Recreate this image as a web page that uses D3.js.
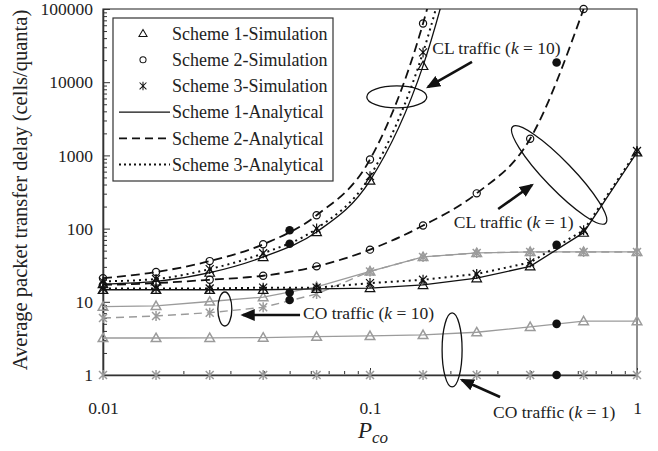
<!DOCTYPE html>
<html lang="en">
<head>
<meta charset="UTF-8">
<title>Average packet transfer delay vs Pco</title>
<script src="https://d3js.org/d3.v7.min.js"></script>
<style>
    html, body { margin: 0; padding: 0; background: #fff; }
    svg { display: block; font-family: "Liberation Serif", "Times New Roman", serif; }
    .legend text { font-size: 18px; fill: #222; }
    .note { font-size: 17.5px; fill: #222; }
</style>
</head>
<body>
<svg id="chart" width="658" height="451"></svg>
<script>
// P_co values of the simulation / analytical points
var pco = [0.01, 0.0158, 0.0251, 0.0398, 0.0631, 0.1, 0.158, 0.251, 0.398, 0.631, 1];

// CL traffic, k = 10 (black curves, last value runs off the top)
var clK10Scheme1 = [17.5, 19, 25, 41, 90, 453, 16700, 1e7];
var clK10Scheme2 = [21, 25.5, 36, 61, 152, 880, 63500, 1e8];
var clK10Scheme3 = [19, 20.5, 28, 46, 100, 520, 25500, 2e7];

// CL traffic, k = 1
var clK1Scheme1 = [14.6, 14.6, 14.6, 14.6, 15, 15.4, 17, 21, 30.5, 88, 1100];
var clK1Scheme2 = [17, 18, 20, 22.7, 30.5, 51.6, 110, 303, 1690, 100000];
var clK1Scheme3 = [15.2, 15.2, 15.2, 15.6, 15.6, 18, 20, 24, 34.5, 95, 1150];

// CO traffic, k = 10 (grey)
var coK10Scheme1 = [8.6, 8.8, 10.1, 11.6, 16, 26, 41, 46.5, 48, 48, 48];
var coK10Scheme3 = [6.0, 6.4, 7.1, 8.4, 12.8, 26, 41, 46.5, 48, 48, 48];

// CO traffic, k = 1 (grey)
var coK1Scheme1 = [3.2, 3.2, 3.22, 3.25, 3.35, 3.42, 3.53, 3.84, 4.55, 5.45, 5.45];
var coK1Scheme3 = [1, 1, 1, 1, 1, 1, 1, 1, 1, 1, 1];

// extra filled dots
var dotPco = [0.05, 0.05, 0.05, 0.05, 0.5, 0.5, 0.5, 0.5];
var dotDelay = [95, 62, 13.4, 10.6, 18600, 60, 5.0, 1];

var yMajor = [1, 10, 100, 1000, 10000, 100000];
var xMajor = [0.01, 0.1, 1];
var legendLabels = ["Scheme 1-Simulation", "Scheme 2-Simulation", "Scheme 3-Simulation",
                    "Scheme 1-Analytical", "Scheme 2-Analytical", "Scheme 3-Analytical"];

var black = "#111", grey = "#9b9b9b";
var plotL = 103, plotR = 637, plotT = 9, plotB = 375;

var svg = d3.select("#chart");

var x = d3.scaleLog().domain([0.01, 1]).range([plotL, plotR]);
var y = d3.scaleLog().domain([1, 100000]).range([plotB, plotT]);

// minor ticks
var yAll = [], xAll = [];
yMajor.forEach(function(d) { if (d < 100000) for (var k = 1; k < 10; k++) yAll.push(d * k); });
yAll.push(100000);
[0.01, 0.1].forEach(function(d) { for (var k = 1; k < 10; k++) xAll.push(d * k); });
xAll.push(1);

var defs = svg.append("defs");
defs.append("clipPath").attr("id", "plot")
    .append("rect").attr("x", plotL).attr("y", plotT).attr("width", plotR - plotL).attr("height", plotB - plotT);

var marker = defs.append("marker")
    .attr("id", "arrow").attr("viewBox", "0 0 12 10").attr("refX", 10).attr("refY", 5)
    .attr("markerWidth", 5.5).attr("markerHeight", 4.6).attr("orient", "auto");
marker.append("path").attr("d", "M0,0L12,5L0,10z").attr("fill", black);

// frame
svg.append("rect").attr("x", plotL).attr("y", plotT).attr("width", plotR - plotL).attr("height", plotB - plotT)
    .attr("fill", "none").attr("stroke", "#444").attr("stroke-width", 1.2);

// y ticks (inward)
var yt = svg.append("g").attr("transform", "translate(" + plotL + ",0)")
    .call(d3.axisRight(y).tickValues(yAll).tickFormat("").tickSize(4).tickSizeOuter(0));
yt.selectAll(".tick line").attr("x2", function(d) { return yMajor.indexOf(d) >= 0 ? 7 : 4; })
    .attr("stroke", "#333");
yt.select(".domain").attr("stroke", "#333").attr("stroke-width", 1.6);

svg.append("g").attr("transform", "translate(" + plotL + ",0)")
    .call(d3.axisLeft(y).tickValues(yMajor).tickFormat(d3.format("d")).tickSize(0).tickPadding(10))
    .call(function(g) { g.select(".domain").remove(); })
    .attr("font-family", "Liberation Serif, serif").attr("font-size", 17.5)
    .selectAll("text").attr("fill", "#222");

// x ticks (inward)
var xt = svg.append("g").attr("transform", "translate(0," + plotB + ")")
    .call(d3.axisTop(x).tickValues(xAll).tickFormat("").tickSize(4).tickSizeOuter(0));
xt.selectAll(".tick line").attr("y2", function(d) { return xMajor.indexOf(d) >= 0 ? -7 : -4; })
    .attr("stroke", "#333");
xt.select(".domain").attr("stroke", "#333").attr("stroke-width", 1.6);

svg.append("g").attr("transform", "translate(0," + plotB + ")")
    .call(d3.axisBottom(x).tickValues(xMajor).tickFormat(function(d) { return String(d); }).tickSize(0).tickPadding(27))
    .call(function(g) { g.select(".domain").remove(); })
    .attr("font-family", "Liberation Serif, serif").attr("font-size", 17.5)
    .selectAll("text").attr("fill", "#222");

// axis titles
svg.append("text").attr("transform", "translate(27,190) rotate(-90)")
    .attr("text-anchor", "middle").attr("font-size", 20.5).attr("fill", "#222")
    .text("Average packet transfer delay (cells/quanta)");

var xt2 = svg.append("text").attr("x", x(0.1) - 12).attr("y", 438).attr("fill", "#222");
xt2.append("tspan").attr("font-style", "italic").attr("font-size", 23).text("P");
xt2.append("tspan").attr("font-style", "italic").attr("font-size", 17).attr("dy", 5).text("co");

// series
var series = [
    {vals: coK1Scheme3, color: grey, dash: null, w: 1.3, sym: "asterisk", curve: d3.curveLinear},
    {vals: coK1Scheme1, color: grey, dash: null, w: 1.3, sym: "triangle", curve: d3.curveLinear},
    {vals: coK10Scheme3, color: grey, dash: "8,5", w: 1.4, sym: "asterisk", curve: d3.curveLinear},
    {vals: coK10Scheme1, color: grey, dash: null, w: 1.3, sym: "triangle", curve: d3.curveLinear},
    {vals: clK1Scheme1, color: black, dash: null, w: 1.3, sym: "triangle", curve: d3.curveLinear},
    {vals: clK1Scheme3, color: black, dash: "2,4", w: 2, sym: "asterisk", curve: d3.curveLinear},
    {vals: clK1Scheme2, color: black, dash: "9,5", w: 1.8, sym: "circle", curve: d3.curveMonotoneX},
    {vals: clK10Scheme1, color: black, dash: null, w: 1.3, sym: "triangle", curve: d3.curveMonotoneX},
    {vals: clK10Scheme3, color: black, dash: "2,4", w: 2, sym: "asterisk", curve: d3.curveMonotoneX},
    {vals: clK10Scheme2, color: black, dash: "9,5", w: 1.8, sym: "circle", curve: d3.curveMonotoneX}
];

var symPath = {
    triangle: "M0,-4.8L4.8,3.6L-4.8,3.6Z",
    circle: "M3.6,0A3.6,3.6 0 1,1 -3.6,0A3.6,3.6 0 1,1 3.6,0Z",
    asterisk: "M-4,-4L4,4M-4,4L4,-4M0,-5L0,5"
};

series.forEach(function(s) {
    var pts = s.vals.map(function(v, i) { return {p: pco[i], v: v}; });
    var line = d3.line().x(function(d) { return x(d.p); }).y(function(d) { return y(d.v); }).curve(s.curve);
    svg.append("path").datum(pts).attr("clip-path", "url(#plot)")
        .attr("d", line).attr("fill", "none").attr("stroke", s.color)
        .attr("stroke-width", s.w).attr("stroke-dasharray", s.dash);
    svg.append("g").selectAll("path").data(pts.filter(function(d) { return d.v <= 100000; }))
        .enter().append("path")
        .attr("transform", function(d) { return "translate(" + x(d.p) + "," + y(d.v) + ")"; })
        .attr("d", symPath[s.sym]).attr("fill", "none").attr("stroke", s.color)
        .attr("stroke-width", s.color === grey ? 1.5 : 1.2);
});

svg.append("g").selectAll("circle").data(dotPco).enter().append("circle")
    .attr("cx", function(d) { return x(d); })
    .attr("cy", function(d, i) { return y(dotDelay[i]); })
    .attr("r", 4.3).attr("fill", black);

// annotations (positions in data units)
var ellipses = [
    {p: 0.126, v: 6300, rx: 30, ry: 11, rot: 0},
    {p: 0.511, v: 540, rx: 67, ry: 14, rot: 46},
    {p: 0.0286, v: 7.97, rx: 7, ry: 17, rot: 0},
    {p: 0.203, v: 2.2, rx: 10, ry: 37, rot: 0}
];
svg.append("g").selectAll("ellipse").data(ellipses).enter().append("ellipse")
    .attr("transform", function(d) { return "translate(" + x(d.p) + "," + y(d.v) + ") rotate(" + d.rot + ")"; })
    .attr("rx", function(d) { return d.rx; }).attr("ry", function(d) { return d.ry; })
    .attr("fill", "none").attr("stroke", black).attr("stroke-width", 1.3);

var arrows = [
    {p0: 0.241, v0: 18900, p1: 0.165, v1: 8600},
    {p0: 0.302, v0: 185, p1: 0.404, v1: 394},
    {p0: 0.0547, v0: 6.6, p1: 0.0334, v1: 6.6},
    {p0: 0.307, v0: 0.5, p1: 0.221, v1: 0.855}
];
svg.append("g").selectAll("line").data(arrows).enter().append("line")
    .attr("x1", function(d) { return x(d.p0); }).attr("y1", function(d) { return y(d.v0); })
    .attr("x2", function(d) { return x(d.p1); }).attr("y2", function(d) { return y(d.v1); })
    .attr("stroke", black).attr("stroke-width", 2.6).attr("marker-end", "url(#arrow)");

var notes = [
    {p: 0.171, v: 24300, k: "10"},
    {p: 0.206, v: 102, k: "1"},
    {p: 0.0561, v: 5.82, k: "10", co: true},
    {p: 0.289, v: 0.259, k: "1", co: true}
];
notes.forEach(function(n) {
    var t = svg.append("text").attr("class", "note").attr("x", x(n.p)).attr("y", y(n.v));
    t.append("tspan").text((n.co ? "CO" : "CL") + " traffic (");
    t.append("tspan").attr("font-style", "italic").text("k");
    t.append("tspan").text(" = " + n.k + ")");
});

// legend
var lg = svg.append("g").attr("class", "legend");
lg.append("rect").attr("x", 113).attr("y", 18).attr("width", 220).attr("height", 163)
    .attr("fill", "#fff").attr("stroke", "#333").attr("stroke-width", 1.2);
var legendSym = ["triangle", "circle", "asterisk"];
var legendDash = [null, "8,5", "2,3"];
legendLabels.forEach(function(label, i) {
    var ly = 33.5 + i * 26.2;
    if (i < 3) {
        lg.append("path").attr("transform", "translate(143," + ly + ") scale(0.85)")
            .attr("d", symPath[legendSym[i]]).attr("fill", "none").attr("stroke", black).attr("stroke-width", 1.2);
    } else {
        lg.append("line").attr("x1", 119).attr("x2", 170).attr("y1", ly).attr("y2", ly)
            .attr("stroke", black).attr("stroke-width", i === 3 ? 1.3 : 1.8)
            .attr("stroke-dasharray", legendDash[i - 3]);
    }
    lg.append("text").attr("x", 172).attr("y", ly).attr("dy", "0.35em").text(label);
});
</script>
</body>
</html>
